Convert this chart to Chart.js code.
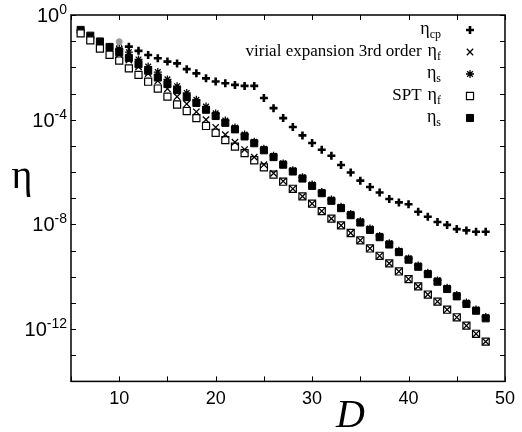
<!DOCTYPE html>
<html>
<head>
    <title>eta vs D</title>
    <script src="https://cdn.jsdelivr.net/npm/chart.js"></script>
    <style>
        body { margin: 0; background: #fff; }
    </style>
</head>
<body>
    <canvas id="myChart" width="522" height="432"></canvas>
    <script>
        // values are log10(eta)
        var D_spt = [6,7,8,9,10,11,12,13,14,15,16,17,18,19,20,21,22,23,24,25,26,27,28,29,30,31,32,33,34,35,36,37,38,39,40,41,42,43,44,45,46,47,48];
        var D_virial = [10,11,12,13,14,15,16,17,18,19,20,21,22,23,24,25,26,27,28,29,30,31,32,33,34,35,36,37,38,39,40,41,42,43,44,45,46,47,48];
        var D_cp = [11,12,13,14,15,16,17,18,19,20,21,22,23,24,25,26,27,28,29,30,31,32,33,34,35,36,37,38,39,40,41,42,43,44,45,46,47,48];

        var eta_cp = [-1.21,-1.37,-1.53,-1.65,-1.78,-1.85,-2.07,-2.23,-2.42,-2.54,-2.61,-2.67,-2.71,-2.71,-3.17,-3.56,-3.94,-4.28,-4.60,-4.89,-5.15,-5.38,-5.73,-6.02,-6.33,-6.57,-6.78,-7.03,-7.16,-7.23,-7.52,-7.71,-7.91,-8.02,-8.18,-8.23,-8.28,-8.28];
        var virial_f = [-1.50,-1.72,-1.98,-2.24,-2.52,-2.82,-3.12,-3.40,-3.70,-4.00,-4.29,-4.57,-4.86,-5.14,-5.43,-5.72,-6.05,-6.35,-6.64,-6.93,-7.21,-7.49,-7.78,-8.04,-8.33,-8.61,-8.92,-9.20,-9.49,-9.80,-10.09,-10.37,-10.68,-10.95,-11.26,-11.55,-11.87,-12.18,-12.48];
        var virial_s = [-1.30,-1.42,-1.70,-1.97,-2.18,-2.46,-2.72,-2.98,-3.24,-3.50,-3.76,-4.03,-4.30,-4.57,-4.84,-5.11,-5.38,-5.67,-5.93,-6.20,-6.48,-6.76,-7.05,-7.33,-7.60,-7.88,-8.16,-8.44,-8.72,-9.01,-9.30,-9.57,-9.85,-10.14,-10.42,-10.70,-10.99,-11.25,-11.54];
        var spt_f = [-0.70,-0.97,-1.28,-1.52,-1.74,-2.04,-2.29,-2.55,-2.81,-3.12,-3.42,-3.67,-3.94,-4.24,-4.50,-4.78,-5.03,-5.28,-5.55,-5.82,-6.10,-6.37,-6.64,-6.93,-7.21,-7.49,-7.78,-8.04,-8.33,-8.61,-8.92,-9.20,-9.49,-9.80,-10.09,-10.37,-10.68,-10.95,-11.26,-11.55,-11.87,-12.18,-12.48];
        var spt_s = [-0.57,-0.79,-1.01,-1.22,-1.42,-1.64,-1.88,-2.13,-2.39,-2.64,-2.87,-3.14,-3.36,-3.62,-3.86,-4.12,-4.37,-4.64,-4.90,-5.17,-5.43,-5.72,-5.98,-6.25,-6.53,-6.81,-7.10,-7.38,-7.65,-7.93,-8.21,-8.49,-8.77,-9.06,-9.35,-9.62,-9.90,-10.19,-10.47,-10.75,-11.04,-11.30,-11.59];
        // the two stray circles at D = 10 (not in the key)
        var D_extra = [10];
        var extra_grey = [-1.02];
        var extra_open = [-1.23];

        var xTicks = [5,10,15,20,25,30,35,40,45,50];
        var yTickExps = [0,-1,-2,-3,-4,-5,-6,-7,-8,-9,-10,-11,-12,-13,-14];
        var yLabelExps = [0,-4,-8,-12];

        function pts(xs, logs) {
            return xs.map((d, i) => ({x: d, y: Math.pow(10, logs[i])}));
        }

        var SANS = '"Liberation Sans", Arial, sans-serif';
        var SERIF = '"Liberation Serif", "Times New Roman", serif';

        // key rows: prefix text, subscript, dataset index
        var keyRows = [
            {pre: '', sub: 'cp', ds: 0},
            {pre: 'virial expansion 3rd order', sub: 'f', ds: 1},
            {pre: '', sub: 's', ds: 2},
            {pre: 'SPT', sub: 'f', ds: 3},
            {pre: '', sub: 's', ds: 4}
        ];

        function marker(ctx, ds, x, y) {
            ctx.save();
            ctx.fillStyle = ds.backgroundColor;
            ctx.strokeStyle = ds.borderColor;
            ctx.lineWidth = ds.borderWidth;
            Chart.helpers.drawPoint(ctx, {pointStyle: ds.pointStyle, radius: ds.pointRadius, rotation: 0, borderWidth: ds.borderWidth}, x, y);
            ctx.restore();
        }

        const frame = {
            id: 'frame',
            afterDraw(chart) {
                const ctx = chart.ctx, a = chart.chartArea;
                const xs = chart.scales.x, ys = chart.scales.y;
                ctx.save();
                ctx.strokeStyle = '#000';
                ctx.lineWidth = 1;
                xTicks.forEach(v => {
                    const px = Math.round(xs.getPixelForValue(v)) + 0.5;
                    ctx.beginPath();
                    ctx.moveTo(px, a.bottom); ctx.lineTo(px, a.bottom - 5);
                    ctx.moveTo(px, a.top); ctx.lineTo(px, a.top + 5);
                    ctx.stroke();
                });
                yTickExps.forEach(e => {
                    const py = Math.round(ys.getPixelForValue(Math.pow(10, e))) + 0.5;
                    ctx.beginPath();
                    ctx.moveTo(a.left, py); ctx.lineTo(a.left + 5, py);
                    ctx.moveTo(a.right, py); ctx.lineTo(a.right - 5, py);
                    ctx.stroke();
                });
                ctx.lineWidth = 1.5;
                ctx.strokeRect(a.left, a.top, a.right - a.left, a.bottom - a.top);

                // y labels 10^n
                ctx.fillStyle = '#000';
                ctx.textBaseline = 'alphabetic';
                yLabelExps.forEach(e => {
                    const py = ys.getPixelForValue(Math.pow(10, e));
                    const sup = String(e);
                    ctx.font = '14px ' + SANS;
                    const supW = ctx.measureText(sup).width;
                    const right = a.left - 4;
                    ctx.textAlign = 'left';
                    ctx.fillText(sup, right - supW, py - 1);
                    ctx.font = '20px ' + SANS;
                    ctx.textAlign = 'right';
                    ctx.fillText('10', right - supW, py + 7);
                });

                // axis titles
                ctx.textAlign = 'center';
                ctx.font = '40px ' + SERIF;
                ctx.fillText('\u03b7', 22, 188);
                ctx.textAlign = 'left';
                ctx.font = 'italic 40px ' + SERIF;
                ctx.fillText('D', 336, 427);

                // key
                keyRows.forEach((r, i) => {
                    const ry = a.top + 15 + i * 22;
                    const base = ry + 4;
                    ctx.font = '12px ' + SERIF;
                    const subW = ctx.measureText(r.sub).width;
                    ctx.font = '18px ' + SERIF;
                    const etaW = ctx.measureText('\u03b7').width;
                    const end = 441;
                    const start = end - subW - etaW;
                    ctx.textAlign = 'left';
                    ctx.fillText('\u03b7', start, base);
                    ctx.font = '12px ' + SERIF;
                    ctx.fillText(r.sub, start + etaW, base + 4);
                    if (r.pre) {
                        ctx.font = '17px ' + SERIF;
                        ctx.textAlign = 'right';
                        ctx.fillText(r.pre, start - 6, base);
                    }
                    marker(ctx, chart.data.datasets[r.ds], 470, ry);
                });
                ctx.restore();
            }
        };

        const ctx = document.getElementById('myChart');
        new Chart(ctx, {
            type: 'scatter',
            plugins: [frame],
            data: {
                datasets: [
                    {label: 'eta_cp', data: pts(D_cp, eta_cp), pointStyle: 'cross', pointRadius: 4, borderWidth: 2.6, borderColor: '#000', backgroundColor: '#000'},
                    {label: 'virial eta_f', data: pts(D_virial, virial_f), pointStyle: 'crossRot', pointRadius: 4.5, borderWidth: 1.3, borderColor: '#000', backgroundColor: '#000'},
                    {label: 'virial eta_s', data: pts(D_virial, virial_s), pointStyle: 'star', pointRadius: 4, borderWidth: 1.3, borderColor: '#000', backgroundColor: '#000'},
                    {label: 'SPT eta_f', data: pts(D_spt, spt_f), pointStyle: 'rect', pointRadius: 5, borderWidth: 1.2, borderColor: '#000', backgroundColor: '#fff'},
                    {label: 'SPT eta_s', data: pts(D_spt, spt_s), pointStyle: 'rect', pointRadius: 5, borderWidth: 1, borderColor: '#000', backgroundColor: '#000'},
                    {label: 'grey', data: pts(D_extra, extra_grey), pointStyle: 'circle', pointRadius: 3, borderWidth: 1, borderColor: '#999', backgroundColor: '#999'},
                    {label: 'open', data: pts(D_extra, extra_open), pointStyle: 'circle', pointRadius: 3, borderWidth: 1, borderColor: '#000', backgroundColor: '#fff'}
                ]
            },
            options: {
                responsive: false,
                animation: false,
                layout: {padding: {left: 71, right: 12, top: 15, bottom: 15}},
                plugins: {
                    legend: {display: false},
                    tooltip: {enabled: false}
                },
                scales: {
                    x: {
                        type: 'linear',
                        min: 5,
                        max: 50,
                        grid: {display: false, drawTicks: false},
                        border: {display: false},
                        ticks: {
                            stepSize: 5,
                            autoSkip: false,
                            maxRotation: 0,
                            padding: 7,
                            color: '#000',
                            font: {family: SANS, size: 18},
                            callback: v => (v % 10 === 0 ? v : '')
                        }
                    },
                    y: {
                        type: 'logarithmic',
                        min: 1e-14,
                        max: 1,
                        display: false
                    }
                }
            }
        });
    </script>
</body>
</html>
